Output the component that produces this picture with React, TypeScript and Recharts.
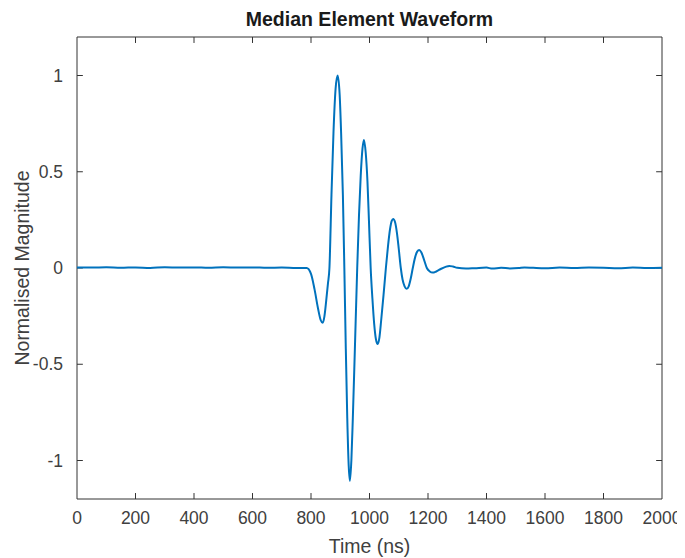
import { LineChart, Line, XAxis, YAxis, ReferenceLine, ReferenceArea, Label } from 'recharts';

// sample times (ns) and median element waveform
const timeNs = [
  0, 50, 100, 150, 200, 250, 300, 350, 400, 450, 500, 550, 600, 650, 700, 750, 785,
  800, 812, 824, 833, 840, 846, 852, 858, 863,
  870, 877, 884, 891, 898, 903, 909, 914,
  919, 924, 929, 933, 938, 943, 950, 958,
  964, 970, 976, 981, 987, 993, 998, 1004,
  1010, 1016, 1022, 1028, 1034, 1040, 1048, 1056,
  1063, 1070, 1076, 1081, 1087, 1094, 1100, 1107,
  1113, 1120, 1127, 1134, 1141, 1148,
  1155, 1163, 1170, 1177, 1186, 1196,
  1206, 1216, 1228, 1245, 1260, 1273, 1285, 1300,
  1330, 1360, 1400, 1420, 1450, 1480, 1510, 1530, 1560, 1600,
  1650, 1700, 1750, 1800, 1850, 1900, 1950, 2000,
];

const magnitude = [
  0.003, 0.002, 0.004, 0.001, 0.003, 0.0, 0.004, 0.002, 0.003, 0.001, 0.004, 0.002, 0.003, 0.001, 0.002, 0.0, 0.0,
  -0.03, -0.11, -0.21, -0.27, -0.285, -0.25, -0.17, -0.08, 0.0,
  0.38, 0.71, 0.93, 1.0, 0.9, 0.7, 0.38, 0.0,
  -0.42, -0.78, -1.03, -1.106, -1.0, -0.78, -0.42, 0.0,
  0.27, 0.48, 0.62, 0.665, 0.6, 0.45, 0.25, 0.0,
  -0.16, -0.29, -0.37, -0.395, -0.36, -0.27, -0.14, 0.0,
  0.11, 0.2, 0.245, 0.255, 0.24, 0.18, 0.1, 0.0,
  -0.06, -0.095, -0.108, -0.095, -0.055, 0.0,
  0.05, 0.085, 0.093, 0.082, 0.045, 0.0,
  -0.018, -0.024, -0.018, -0.004, 0.006, 0.011, 0.008, 0.001,
  -0.003, -0.001, 0.002, -0.003, 0.001, -0.002, 0.0, 0.003, 0.001, -0.001,
  0.002, 0.0, 0.002, 0.001, -0.001, 0.002, 0.0, 0.001,
];

const xTicks = [0, 200, 400, 600, 800, 1000, 1200, 1400, 1600, 1800, 2000];
const yTicks = [-1, -0.5, 0, 0.5, 1];

const data = timeNs.map((t, i) => ({ time: t, magnitude: magnitude[i] }));

const frame = '#333333';
const text = '#404040';
const font = 'Liberation Sans, Arial, sans-serif';

// inward tick lengths in data units (~6px)
const xTickLen = 20;
const yTickLen = 0.031;

const App = () => {
  return (
    <div style={{ position: 'relative', width: 677, height: 550, fontFamily: font }}>
      <div
        style={{
          position: 'absolute',
          left: 69,
          width: 585,
          top: 0,
          textAlign: 'center',
          fontWeight: 'bold',
          fontSize: 19.5,
          color: '#1a1a1a',
        }}
      >
        Median Element Waveform
      </div>
      <LineChart width={677} height={550} data={data} margin={{ top: 29, right: 23, bottom: 0, left: 0 }}>
        <XAxis
          dataKey="time"
          type="number"
          domain={[0, 2000]}
          ticks={xTicks}
          interval={0}
          tickLine={false}
          axisLine={false}
          tickSize={0}
          tickMargin={13}
          height={59}
          tick={{ fill: text, fontSize: 17.5, fontFamily: font }}
        >
          <Label value="Time (ns)" position="insideBottom" offset={5} style={{ fill: text, fontSize: 19.5, fontFamily: font }} />
        </XAxis>
        <YAxis
          type="number"
          domain={[-1.2, 1.2]}
          ticks={yTicks}
          interval={0}
          tickLine={false}
          axisLine={false}
          tickSize={0}
          tickMargin={14}
          width={69}
          tick={{ fill: text, fontSize: 17.5, fontFamily: font }}
        >
          <Label
            value="Normalised Magnitude"
            angle={-90}
            position="insideLeft"
            offset={14}
            style={{ textAnchor: 'middle', fill: text, fontSize: 19.5, fontFamily: font }}
          />
        </YAxis>
        <ReferenceArea x1={0} x2={2000} y1={-1.2} y2={1.2} fill="none" stroke={frame} strokeWidth={1} />
        {xTicks.slice(1, -1).map((v) => (
          <ReferenceLine key={'xb' + v} segment={[{ x: v, y: -1.2 }, { x: v, y: -1.2 + yTickLen }]} stroke={frame} />
        ))}
        {xTicks.slice(1, -1).map((v) => (
          <ReferenceLine key={'xt' + v} segment={[{ x: v, y: 1.2 }, { x: v, y: 1.2 - yTickLen }]} stroke={frame} />
        ))}
        {yTicks.map((v) => (
          <ReferenceLine key={'yl' + v} segment={[{ x: 0, y: v }, { x: xTickLen, y: v }]} stroke={frame} />
        ))}
        {yTicks.map((v) => (
          <ReferenceLine key={'yr' + v} segment={[{ x: 2000, y: v }, { x: 2000 - xTickLen, y: v }]} stroke={frame} />
        ))}
        <Line
          type="monotone"
          dataKey="magnitude"
          stroke="#0072BD"
          strokeWidth={2}
          dot={false}
          isAnimationActive={false}
        />
      </LineChart>
    </div>
  );
};

export default App;
